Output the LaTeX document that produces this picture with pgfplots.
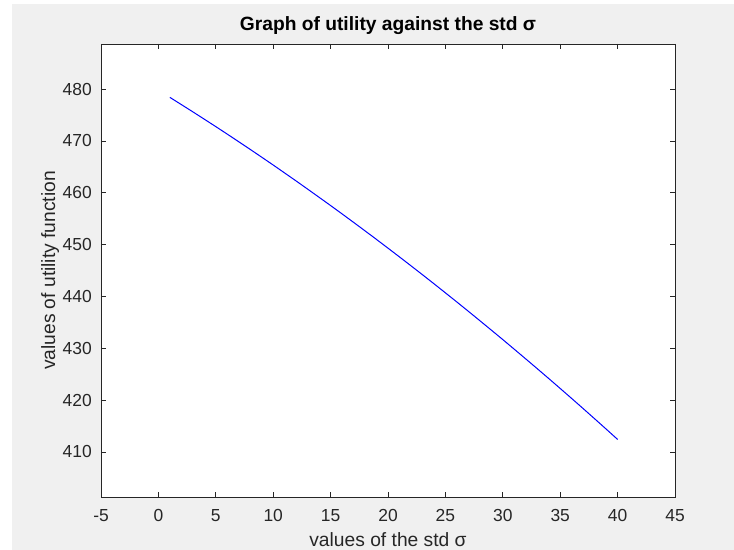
\documentclass[border=0pt]{standalone}
\usepackage{fontspec}
\setmainfont{Liberation Sans}
\usepackage{pgfplots}
\pgfplotsset{compat=1.18}
\definecolor{figbg}{HTML}{F0F0F0}
\definecolor{axc}{HTML}{262626}
\begin{document}
\begin{tikzpicture}
\fill[white] (0bp,0bp) rectangle (734bp,550bp);
\fill[figbg] (12bp,0bp) rectangle (734bp,546bp);
\path[use as bounding box] (0bp,0bp) rectangle (734bp,550bp);
\begin{axis}[
  at={(101bp,53bp)}, anchor=south west,
  scale only axis, width=574bp, height=453bp,
  xmin=-5, xmax=45, ymin=401.3, ymax=488.7,
  xtick={-5,0,5,10,15,20,25,30,35,40,45},
  ytick={410,420,430,440,450,460,470,480},
  tick align=inside, major tick length=5bp,
  axis line style={axc, line width=0.8bp},
  every tick/.style={axc, line width=0.8bp},
  axis background/.style={fill=white},
  /pgf/number format/assume math mode=true,
  tick label style={font=\fontsize{17.5}{20}\selectfont, text=axc},
  xticklabel style={anchor=base, inner sep=0pt, yshift=-24.5bp},
  yticklabel style={anchor=east, inner sep=0pt, xshift=-9bp},
  title={Graph of utility against the std σ},
  title style={at={(axis description cs:0.5,1)}, anchor=base, yshift=8bp, inner sep=0pt, font=\fontsize{19.3}{22}\selectfont\bfseries, text=black},
  xlabel={values of the std σ},
  xlabel style={at={(axis description cs:0.5,0)}, anchor=base, inner sep=0pt, yshift=-49bp, font=\fontsize{19.3}{22}\selectfont, text=axc},
  ylabel={values of utility function},
  ylabel style={at={(axis description cs:0,0.5)}, anchor=base, inner sep=0pt, rotate=0, yshift=46bp, font=\fontsize{19.3}{22}\selectfont, text=axc},
]
\addplot[blue, line width=1bp] coordinates {
(1,478.40) (2,477.01) (3,475.61) (4,474.19) (5,472.76) (6,471.31) (7,469.84) (8,468.36) (9,466.86) (10,465.35)
(11,463.81) (12,462.27) (13,460.70) (14,459.12) (15,457.53) (16,455.92) (17,454.29) (18,452.65) (19,450.99) (20,449.31)
(21,447.62) (22,445.91) (23,444.19) (24,442.45) (25,440.69) (26,438.92) (27,437.13) (28,435.32) (29,433.50) (30,431.67)
(31,429.81) (32,427.94) (33,426.06) (34,424.16) (35,422.24) (36,420.31) (37,418.36) (38,416.39) (39,414.41) (40,412.41)
};
\end{axis}
\end{tikzpicture}
\end{document}
